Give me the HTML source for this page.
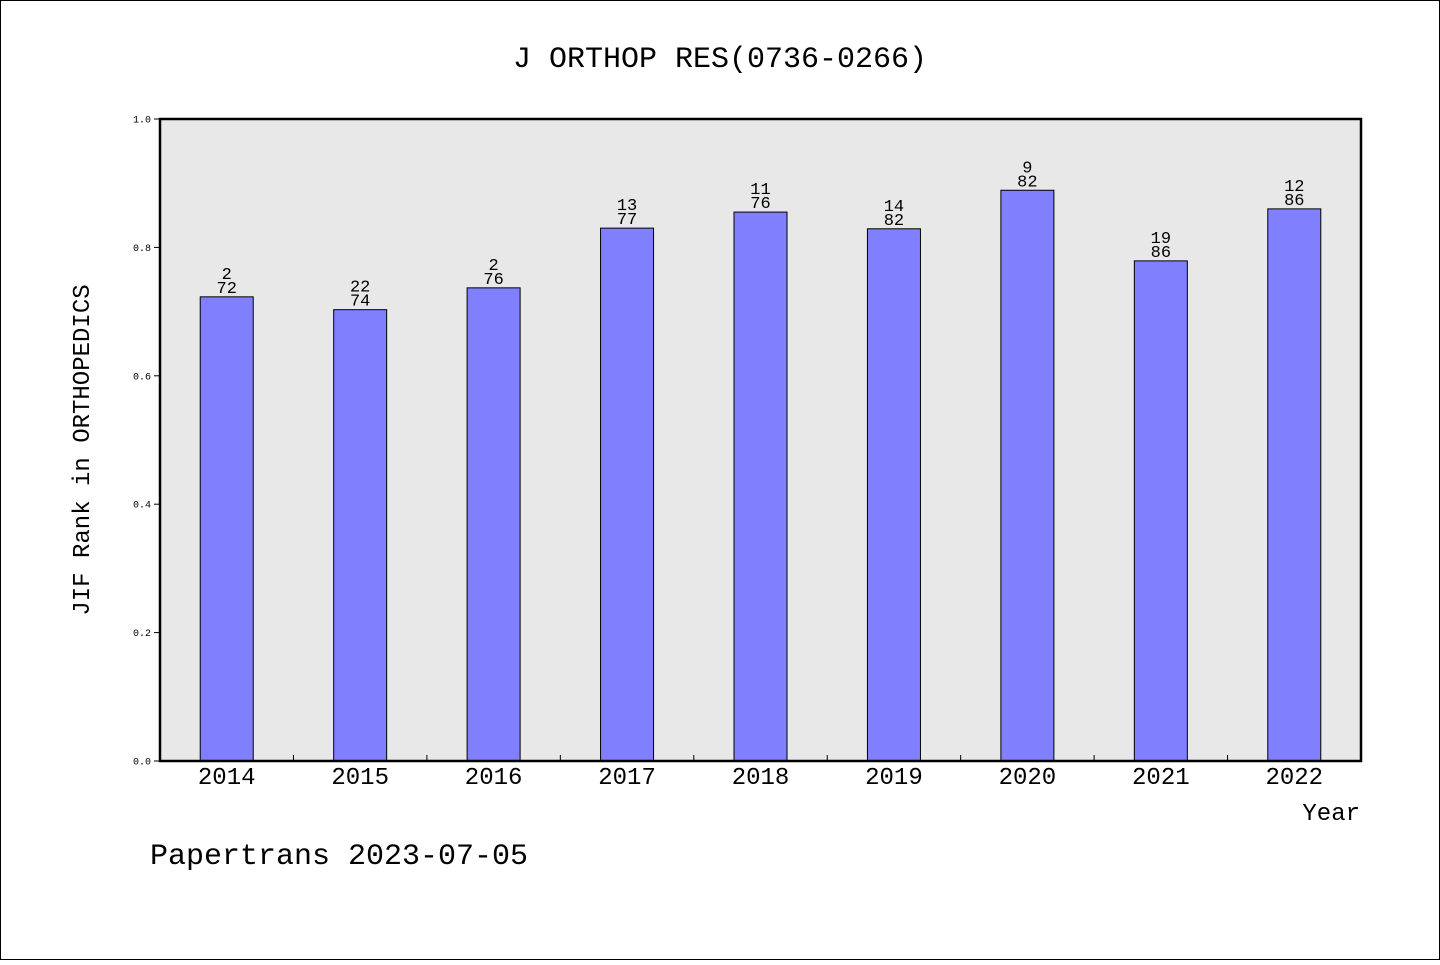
<!DOCTYPE html>
<html><head><meta charset="utf-8"><style>
html,body{margin:0;padding:0;background:#fff;}
svg text{font-family:"WenQuanYi Zen Hei","Liberation Mono",monospace;fill:#000;}
</style></head><body>
<svg id="chart" width="1440" height="960" xmlns="http://www.w3.org/2000/svg">
<rect x="0.5" y="0.5" width="1439" height="959" fill="#fff" stroke="#000"/>
<text x="720" y="67" font-size="30" text-anchor="middle">J ORTHOP RES(0736-0266)</text>
<rect x="160" y="119" width="1201" height="642" fill="#e8e8e8"/>
<g id="marks"></g>
<rect x="160" y="119" width="1201" height="642" fill="none" stroke="#000" stroke-width="2.5"/>
<text transform="translate(89,450) rotate(-90)" font-size="24" text-anchor="middle">JIF Rank in ORTHOPEDICS</text>
<text x="1360" y="820" font-size="24" text-anchor="end">Year</text>
<text x="150" y="864" font-size="30">Papertrans 2023-07-05</text>
</svg>
<script>
const categories = ["2014","2015","2016","2017","2018","2019","2020","2021","2022"];
const values = [0.723,0.703,0.737,0.830,0.855,0.829,0.889,0.779,0.860];
const ranks = ["2","22","2","13","11","14","9","19","12"];
const totals = ["72","74","76","77","76","82","82","86","86"];
const yTicks = ["0.0","0.2","0.4","0.6","0.8","1.0"];
const NS="http://www.w3.org/2000/svg";
const X0=160,X1=1361,Y0=761,Y1=119;
const bw=(X1-X0)/categories.length;
const xc=i=>X0+bw*(i+0.5);
const y=v=>Y0-(v)*(Y0-Y1);
const g=document.getElementById('marks');
function mk(t,a){const e=document.createElementNS(NS,t);for(const k in a)e.setAttribute(k,a[k]);g.appendChild(e);return e;}
yTicks.forEach(t=>{const v=parseFloat(t);
 const l=mk('line',{x1:X0-6,x2:X0,y1:y(v),y2:y(v),stroke:'#000'});
 
 
 const tx=mk('text',{x:X0-9,y:y(v)+3.5,'font-size':10,'text-anchor':'end'});tx.textContent=t;
 
 
});
for(let i=1;i<categories.length;i++){
 const l=mk('line',{x1:X0+bw*i,x2:X0+bw*i,y1:Y0,y2:Y0-6,stroke:'#000'});
 
 
}
categories.forEach((c,i)=>{
 const b=mk('rect',{x:xc(i)-26.5,y:y(values[i]),width:53,height:Y0-y(values[i]),fill:'#8080ff',stroke:'#000','stroke-width':1});
 
 
 const t1=mk('text',{x:xc(i),y:y(values[i])-18,'font-size':17,'text-anchor':'middle'});t1.textContent=ranks[i];
 
 
 const t2=mk('text',{x:xc(i),y:y(values[i])-4,'font-size':17,'text-anchor':'middle'});t2.textContent=totals[i];
 
 
 const xl=mk('text',{x:xc(i),y:784,'font-size':24,'text-anchor':'middle'});xl.textContent=c;
 
 
});
</script>
</body></html>
